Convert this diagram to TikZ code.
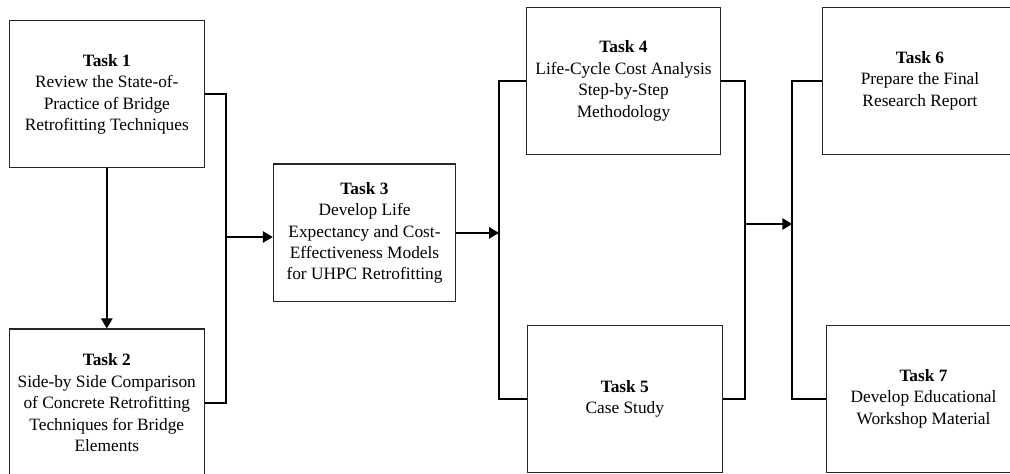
\documentclass[tikz,border=0pt]{standalone}
\usepackage{fontspec}
\setmainfont{Liberation Serif}
\usetikzlibrary{arrows.meta}

\tikzset{
	taskbox/.style={draw=black!85, line width=.8pt, align=center, inner sep=0pt,
		font=\fontsize{13}{16.1}\selectfont},
	flow/.style={line width=1.3pt},
	toarrow/.style={flow, -{Triangle[length=7.5pt,width=8.5pt]}}
}

\begin{document}
\begin{tikzpicture}[x=.75pt, y=-.75pt]
			\useasboundingbox (0,0) rectangle (1010,474);
			
			\node[taskbox, minimum width=146pt, minimum height=110pt] (t1) at (106.8,94.3)
				{\textbf{Task 1}\\Review the State-of-\\Practice of Bridge\\Retrofitting Techniques};
			\node[taskbox, minimum width=146pt, minimum height=111pt] (t2) at (106.8,403)
				{\textbf{Task 2}\\Side-by Side Comparison\\of Concrete Retrofitting\\Techniques for Bridge\\Elements};
			\node[taskbox, minimum width=136.8pt, minimum height=103.3pt] (t3) at (364.5,232.9)
				{\textbf{Task 3}\\Develop Life\\Expectancy and Cost-\\Effectiveness Models\\for UHPC Retrofitting};
			\node[taskbox, minimum width=146pt, minimum height=110pt] (t4) at (623.5,80.8)
				{\textbf{Task 4}\\Life-Cycle Cost Analysis\\Step-by-Step\\Methodology};
			\node[taskbox, minimum width=146pt, minimum height=110pt] (t5) at (624.8,398.7)
				{\textbf{Task 5}\\Case Study};
			\node[taskbox, minimum width=146pt, minimum height=110pt] (t6) at (920,80.8)
				{\textbf{Task 6}\\Prepare the Final\\Research Report};
			\node[taskbox, minimum width=146pt, minimum height=110pt] (t7) at (923.5,398.7)
				{\textbf{Task 7}\\Develop Educational\\Workshop Material};
			
			% junctions
			\coordinate (j1) at (226,237);
			\coordinate (j2) at (499,234);
			\coordinate (j3) at (745,224);
			\coordinate (j4) at (792.3,224);
			
			\draw [toarrow] (t1.south) to (t2.north);
			
			\draw [flow] (t1.east) -| (j1) |- (t2.east);
			\draw [toarrow] (j1) to (j1 -| t3.west);
			
			\draw [toarrow] (t3.east) to (t3.east -| j2);
			\draw [flow] (t4.west) -| (j2) |- (t5.west);
			
			\draw [flow] (t4.east) -| (j3) |- (t5.east);
			\draw [toarrow] (j3) to (j4);
			\draw [flow] (t6.west) -| (j4) |- (t7.west);
			\end{tikzpicture}
\end{document}
